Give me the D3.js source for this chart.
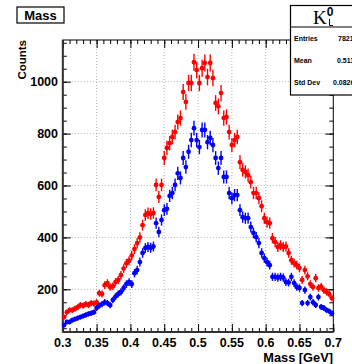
<!DOCTYPE html>
<html>
<head>
<meta charset="utf-8">
<script src="https://cdn.jsdelivr.net/npm/d3@7"></script>
<style>
  body { margin: 0; background: #fff; }
  text { font-family: "Liberation Sans", Arial, sans-serif; }
</style>
</head>
<body>
<script>
const width = 352;
const height = 364;

// Histogram binning (100 bins from 0.3 to 0.7 GeV).
const binLow = 0.3;
const binWidth = 0.004;

// Bin contents.
const redCounts = [
  93, 112, 120, 120, 125, 131, 139, 137, 143, 140,
  147, 145, 150, 185, 182, 216, 224, 209, 212, 228,
  236, 255, 280, 300, 310, 330, 355, 378, 400, 447,
  486, 493, 490, 494, 602, 556, 602, 706, 745, 763,
  787, 806, 845, 860, 960, 922, 995, 995, 1075, 1045,
  995, 1052, 1072, 1018, 1072, 1014, 918, 905, 956, 860,
  864, 806, 756, 775, 787, 690, 660, 652, 640, 613,
  571, 571, 551, 520, 474, 459, 455, 397, 382, 363,
  370, 363, 365, 340, 312, 301, 293, 282, 236, 274,
  250, 220, 209, 243, 205, 210, 197, 190, 182, 166
];
const blueCounts = [
  62, 74, 74, 81, 85, 89, 93, 97, 101, 105,
  108, 112, 128, 137, 143, 150, 147, 139, 159, 172,
  182, 190, 205, 220, 228, 220, 262, 274, 305, 340,
  359, 363, 360, 365, 455, 421, 467, 505, 510, 560,
  571, 602, 647, 629, 706, 671, 730, 775, 821, 775,
  748, 814, 814, 767, 783, 756, 706, 667, 706, 633,
  633, 571, 551, 563, 563, 505, 478, 474, 474, 440,
  417, 401, 378, 340, 320, 305, 293, 248, 248, 245,
  248, 245, 228, 226, 248, 224, 209, 205, 147, 197,
  147, 170, 150, 140, 170, 132, 128, 120, 115, 108
];

// Axis ticks.
const xMajor = [0.3, 0.35, 0.4, 0.45, 0.5, 0.55, 0.6, 0.65, 0.7];
const xMinor = d3.range(0, 41).map(i => 0.3 + i * 0.01);
const yMajor = [200, 400, 600, 800, 1000];
const yMinor = d3.range(50, 1161, 50);

// Stats box text.
const statNames = ["Entries", "Mean", "Std Dev"];
const statValues = ["78210", "0.5113", "0.08262"];

const frame = { left: 62.8, right: 333.3, top: 40, bottom: 332 };

const x = d3.scaleLinear().domain([0.3, 0.7]).range([frame.left, frame.right]);
const y = d3.scaleLinear().domain([35.5, 1160.7]).range([frame.bottom, frame.top]);

// Create the SVG container.
const svg = d3.select("body").append("svg")
  .attr("width", width)
  .attr("height", height);

// Dotted grid at the major ticks.
const grid = svg.append("g").attr("stroke", "#a0a0a0").attr("stroke-dasharray", "1,2").attr("stroke-width", 0.8);
grid.selectAll(".gx").data(xMajor.slice(1, -1)).enter().append("line")
  .attr("x1", d => x(d)).attr("x2", d => x(d))
  .attr("y1", frame.top).attr("y2", frame.bottom);
grid.selectAll(".gy").data(yMajor).enter().append("line")
  .attr("x1", frame.left).attr("x2", frame.right)
  .attr("y1", d => y(d)).attr("y2", d => y(d));

// Axes: ticks point into the frame on all four sides.
function tickAxis(axisFn, scale, values, size, transform) {
  svg.append("g")
    .attr("transform", transform)
    .call(axisFn(scale).tickValues(values).tickSize(size).tickFormat(""))
    .call(g => g.select(".domain").remove())
    .call(g => g.selectAll("line").attr("stroke", "#000"));
}
tickAxis(d3.axisBottom, x, xMajor, -8, `translate(0,${frame.bottom})`);
tickAxis(d3.axisBottom, x, xMinor, -4, `translate(0,${frame.bottom})`);
tickAxis(d3.axisTop, x, xMajor, -8, `translate(0,${frame.top})`);
tickAxis(d3.axisTop, x, xMinor, -4, `translate(0,${frame.top})`);
tickAxis(d3.axisLeft, y, yMajor, -8, `translate(${frame.left},0)`);
tickAxis(d3.axisLeft, y, yMinor, -4, `translate(${frame.left},0)`);
tickAxis(d3.axisRight, y, yMajor, -8, `translate(${frame.right},0)`);
tickAxis(d3.axisRight, y, yMinor, -4, `translate(${frame.right},0)`);

// Frame.
svg.append("rect")
  .attr("x", frame.left).attr("y", frame.top)
  .attr("width", frame.right - frame.left).attr("height", frame.bottom - frame.top)
  .attr("fill", "none").attr("stroke", "#000").attr("stroke-width", 1);
svg.append("line")
  .attr("x1", frame.left).attr("x2", frame.left)
  .attr("y1", frame.top).attr("y2", frame.bottom + 0.5)
  .attr("stroke", "#333").attr("stroke-width", 2);
svg.append("line")
  .attr("x1", frame.left).attr("x2", frame.right)
  .attr("y1", frame.bottom).attr("y2", frame.bottom)
  .attr("stroke", "#333").attr("stroke-width", 2);

// Tick labels.
svg.append("g").selectAll("text").data(xMajor).enter().append("text")
  .attr("x", d => x(d)).attr("y", 346.5)
  .attr("text-anchor", "middle")
  .style("font-size", "12.5px").style("font-weight", "bold")
  .text(d => d3.format("")(d));
svg.append("g").selectAll("text").data(yMajor).enter().append("text")
  .attr("x", 58).attr("y", d => y(d) + 4.5)
  .attr("text-anchor", "end")
  .style("font-size", "12.5px").style("font-weight", "bold")
  .text(d => d);

// Axis titles.
svg.append("text")
  .attr("x", 333).attr("y", 362)
  .attr("text-anchor", "end")
  .style("font-size", "12.8px").style("font-weight", "bold")
  .text("Mass [GeV]");
svg.append("text")
  .attr("transform", "translate(26,40) rotate(-90)")
  .attr("text-anchor", "end")
  .style("font-size", "11.5px").style("font-weight", "bold")
  .text("Counts");

// Draw one histogram as markers with error bars.
function drawHist(counts, color) {
  const bins = counts.map((c, i) => ({ x: binLow + (i + 0.5) * binWidth, c: c }));
  const g = svg.append("g").attr("stroke", color).attr("fill", color);
  g.selectAll(".ey").data(bins).enter().append("line")
    .attr("x1", d => x(d.x)).attr("x2", d => x(d.x))
    .attr("y1", d => y(d.c - Math.sqrt(d.c))).attr("y2", d => y(d.c + Math.sqrt(d.c)))
    .attr("stroke-width", 1.4);
  g.selectAll(".ex").data(bins).enter().append("line")
    .attr("x1", d => x(d.x - binWidth / 2)).attr("x2", d => x(d.x + binWidth / 2))
    .attr("y1", d => y(d.c)).attr("y2", d => y(d.c))
    .attr("stroke-width", 1.4);
  g.selectAll("circle").data(bins).enter().append("circle")
    .attr("cx", d => x(d.x)).attr("cy", d => y(d.c))
    .attr("r", 2.4).attr("stroke", "none");
}
drawHist(redCounts, "#ff0000");
drawHist(blueCounts, "#0000ff");

// Title box.
svg.append("rect")
  .attr("x", 17).attr("y", 7).attr("width", 47).attr("height", 16)
  .attr("fill", "#fff").attr("stroke", "#000").attr("stroke-width", 1.2);
svg.append("text")
  .attr("x", 40.5).attr("y", 20)
  .attr("text-anchor", "middle")
  .style("font-size", "13px").style("font-weight", "bold")
  .text("Mass");

// Stats box.
svg.append("rect")
  .attr("x", 290.5).attr("y", 5.5).attr("width", 70).attr("height", 89.5)
  .attr("fill", "#fff").attr("stroke", "#000").attr("stroke-width", 1.2);
svg.append("line")
  .attr("x1", 290.5).attr("x2", 352).attr("y1", 27).attr("y2", 27)
  .attr("stroke", "#000").attr("stroke-width", 1.2);
const head = svg.append("text")
  .attr("x", 313).attr("y", 24)
  .style("font-family", "'Liberation Serif', 'DejaVu Serif', serif")
  .style("font-size", "19px");
head.append("tspan").text("K");
head.append("tspan").attr("dy", -8).style("font-size", "12px").style("font-weight", "bold")
  .style("font-family", "'Liberation Sans', sans-serif").text("0");
svg.append("path")
  .attr("d", "M329.5,19 V25.5 H333")
  .attr("fill", "none").attr("stroke", "#000").attr("stroke-width", 1);
svg.append("g").selectAll("text").data(statNames).enter().append("text")
  .attr("x", 294).attr("y", (d, i) => 41 + i * 22)
  .style("font-size", "7px").style("font-weight", "bold")
  .text(d => d);
svg.append("g").selectAll("text").data(statValues).enter().append("text")
  .attr("x", (d, i) => [338, 337, 333][i]).attr("y", (d, i) => 41 + i * 22)
  .style("font-size", "7px").style("font-weight", "bold")
  .text(d => d);
</script>
</body>
</html>
